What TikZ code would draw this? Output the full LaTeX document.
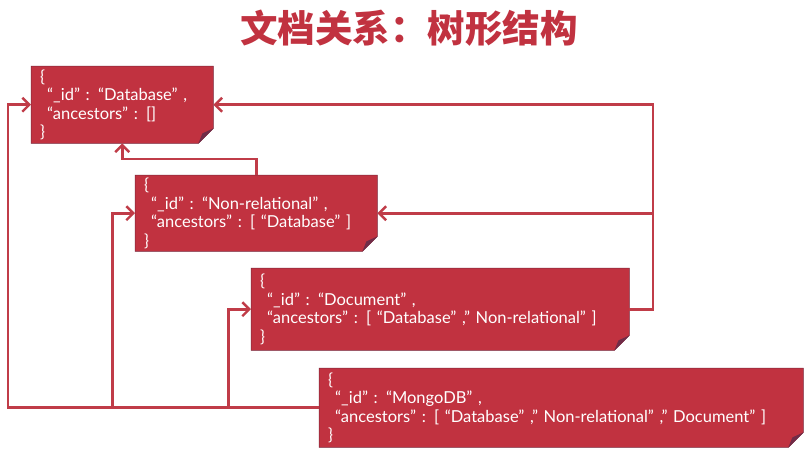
\documentclass[tikz,border=0pt]{standalone}
\usepackage{fontspec}
\setmainfont{Lato}
\newfontfamily\cjk{Noto Sans CJK SC}
\usetikzlibrary{arrows.meta,backgrounds}
\definecolor{boxred}{RGB}{193,50,64}
\definecolor{linered}{RGB}{192,60,72}
\definecolor{folddark}{RGB}{112,44,72}
\definecolor{edgedark}{RGB}{120,40,60}
\newcommand{\jsp}{\spaceskip=5.6pt plus 1pt minus 0.5pt\relax}
\tikzset{
  docbox/.style={anchor=north west, inner xsep=9pt, inner ysep=1pt, align=left,
    text=white, font=\fontsize{16.5}{18.5}\selectfont},
  conn/.style={draw=linered, line width=2.6pt, line join=miter},
  arr/.style={-{Straight Barb[length=7pt,width=14pt,line width=2.4pt]}},
}
\newcommand{\foldbox}[1]{%
  \fill[boxred, draw=edgedark, line width=0.5pt] (#1.north west) -- (#1.north east) -- ([yshift=15pt]#1.south east) -- ([xshift=-15pt]#1.south east) -- (#1.south west) -- cycle;
  \fill[folddark] ([yshift=15pt]#1.south east) -- ([xshift=-15pt]#1.south east) -- ([xshift=-11pt,yshift=10pt]#1.south east) -- cycle;}
\begin{document}
\begin{tikzpicture}[x=1pt,y=-1pt]
\useasboundingbox (0,0) rectangle (807,451);
\node[font=\cjk\bfseries\fontsize{37.5}{40}\selectfont, text=boxred] (title) at (409,28) {文档关系：树形结构};

\node[docbox, minimum width=182pt, minimum height=77pt, text width=164pt] (db) at (31,66)
 {\jsp\{\\\hspace*{7pt}“\_id” : “Database” ,\\\hspace*{7pt}“ancestors” : []\\\}};
\node[docbox, minimum width=242pt, minimum height=76pt, text width=224pt] (nr) at (135,175)
 {\jsp\{\\\hspace*{7pt}“\_id” : “Non-relational” ,\\\hspace*{7pt}“ancestors” : [ “Database” ]\\\}};
\node[docbox, minimum width=378pt, minimum height=82pt, text width=360pt] (doc) at (251,268)
 {\jsp\{\\\hspace*{7pt}“\_id” : “Document” ,\\\hspace*{7pt}“ancestors” : [ “Database” ,” Non-relational” ]\\\}};
\node[docbox, minimum width=484pt, minimum height=79pt, text width=466pt] (mg) at (319,368)
 {\jsp\{\\\hspace*{7pt}“\_id” : “MongoDB” ,\\\hspace*{7pt}“ancestors” : [ “Database” ,” Non-relational” ,” Document” ]\\\}};

\begin{scope}[on background layer]
\fill[white] (0,0) rectangle (807,451);
\foldbox{db}\foldbox{nr}\foldbox{doc}\foldbox{mg}
\end{scope}

\coordinate (L) at (8,0);
\coordinate (B1) at (112.5,0);
\coordinate (B2) at (228.5,0);
\coordinate (R) at (653,0);

\draw[conn,arr] (mg.west) -- (L |- mg.west) -- (L |- db.west) -- (db.west);
\draw[conn,arr] (B1 |- mg.west) -- (B1 |- nr.west) -- (nr.west);
\draw[conn,arr] (B2 |- mg.west) -- (B2 |- doc.west) -- (doc.west);
\draw[conn,arr] (doc.east) -- (R |- doc.east) -- (R |- db.east) -- (db.east);
\draw[conn,arr] (R |- nr.east) -- (nr.east);
\draw[conn,arr] (nr.north) -- ++(0,-16) -| (db.south);
\end{tikzpicture}
\end{document}
